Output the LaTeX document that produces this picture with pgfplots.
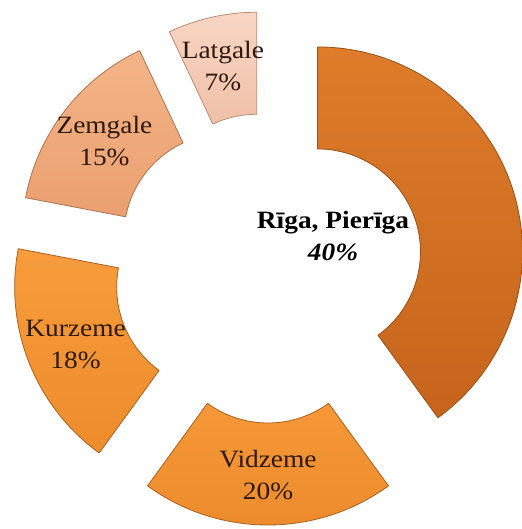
\documentclass[border=0pt]{standalone}
\usepackage{pgfplots}
\usepackage{pgfplotstable}
\pgfplotsset{compat=1.18}
\usepackage{fontspec}
\setmainfont{Liberation Serif}

\definecolor{filltop0}{RGB}{222,124,42}
\definecolor{fillbot0}{RGB}{198,100,28}
\definecolor{edge0}{RGB}{150,80,25}
\definecolor{filltop1}{RGB}{246,152,56}
\definecolor{fillbot1}{RGB}{236,138,42}
\definecolor{edge1}{RGB}{170,95,30}
\definecolor{filltop2}{RGB}{247,156,60}
\definecolor{fillbot2}{RGB}{238,140,44}
\definecolor{edge2}{RGB}{170,95,30}
\definecolor{filltop3}{RGB}{244,180,135}
\definecolor{fillbot3}{RGB}{234,160,112}
\definecolor{edge3}{RGB}{175,115,80}
\definecolor{filltop4}{RGB}{248,214,196}
\definecolor{fillbot4}{RGB}{240,192,168}
\definecolor{edge4}{RGB}{185,140,115}
\definecolor{txt}{RGB}{45,25,15}

\newcommand{\wide}[1]{\scalebox{1.1}[1]{#1}}

\pgfplotstableread{
name value
Riga 40
Vidzeme 20
Kurzeme 18
Zemgale 15
Latgale 7
}\donut

\begin{document}
\begin{tikzpicture}
\begin{axis}[
  width=522bp, height=529bp, scale only axis,
  xmin=0, xmax=522, ymin=0, ymax=529,
  hide axis, clip=false,
]
\addplot[draw=none, mark=none, forget plot] coordinates {(0,0) (522,529)};
\def\cum{0}
\pgfplotsforeachungrouped \i in {0,...,4}{%
  \pgfplotstablegetelem{\i}{value}\of\donut
  \let\val\pgfplotsretval
  \pgfmathsetmacro{\aA}{90-3.6*\cum}%
  \pgfmathsetmacro{\aB}{90-3.6*(\cum+\val)}%
  \pgfmathsetmacro{\aM}{(\aA+\aB)/2}%
  \pgfmathsetmacro{\ccx}{268+52*cos(\aM)}%
  \pgfmathsetmacro{\ccy}{261+52*sin(\aM)}%
  \pgfmathsetmacro{\xo}{\ccx+205*cos(\aA)}%
  \pgfmathsetmacro{\yo}{\ccy+205*sin(\aA)}%
  \pgfmathsetmacro{\xin}{\ccx+103*cos(\aB)}%
  \pgfmathsetmacro{\yin}{\ccy+103*sin(\aB)}%
  \pgfmathsetmacro{\xl}{\ccx+155*cos(\aM)}%
  \pgfmathsetmacro{\yl}{\ccy+155*sin(\aM)}%
  \edef\doslice{%
    \noexpand\path[top color=filltop\i, bottom color=fillbot\i, draw=edge\i, line width=0.8pt, line join=round]
      (axis cs:\xo,\yo) arc[start angle=\aA, end angle=\aB, radius=205bp]
      -- (axis cs:\xin,\yin) arc[start angle=\aB, end angle=\aA, radius=103bp] -- cycle;
    \noexpand\coordinate (L\i) at (axis cs:\xl,\yl);
  }%
  \doslice
  \pgfmathsetmacro{\cum}{\cum+\val}%
}
\coordinate (LR) at (axis cs:333,293);
\coordinate (BL) at (axis cs:0,0);
\coordinate (TR) at (axis cs:522,529);
\end{axis}
\begin{scope}[every node/.style={align=center, text=txt, font=\fontsize{25}{32}\selectfont}]
\node[text=black] at (LR) {\wide{\textbf{Rīga, Pierīga}}\\\wide{\textbf{\textit{40\%}}}};
\node at (L1) {\wide{Vidzeme}\\\wide{20\%}};
\node at (L2) {\wide{Kurzeme}\\\wide{18\%}};
\node at (L3) {\wide{Zemgale}\\\wide{15\%}};
\node at (L4) {\wide{Latgale}\\\wide{7\%}};
\end{scope}
\pgfresetboundingbox
\useasboundingbox (BL) rectangle (TR);
\end{tikzpicture}
\end{document}
